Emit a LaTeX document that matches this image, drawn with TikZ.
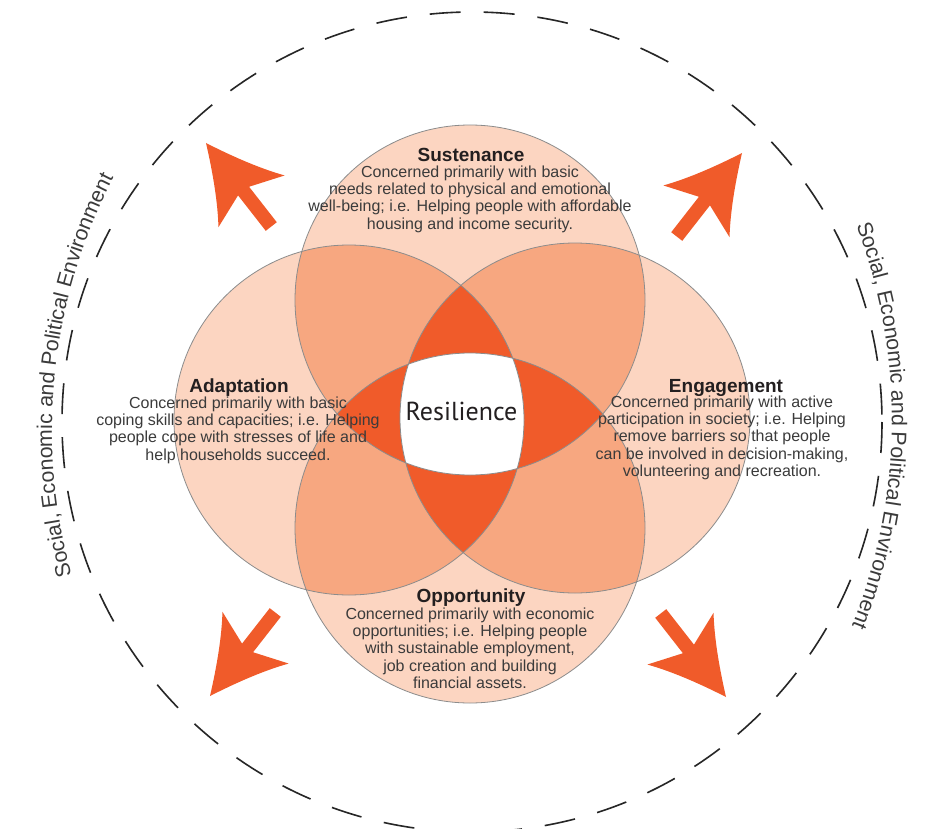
\documentclass[tikz,border=0pt]{standalone}
\usepackage{fontspec}
\setmainfont{Liberation Sans}
\newfontfamily\resfont{PT Sans}
\usetikzlibrary{decorations.text}
\definecolor{lightc}{RGB}{252,213,193}
\definecolor{midc}{RGB}{247,167,128}
\definecolor{darkc}{RGB}{240,91,42}
\definecolor{ringc}{RGB}{140,140,140}
\definecolor{txtc}{RGB}{59,59,59}
\definecolor{titc}{RGB}{35,31,32}
\newcommand{\arrowshape}{\fill[darkc] (0,0) .. controls (30,14) and (55,28) .. (74,42) -- (61,7) -- (106,7) -- (106,-7) -- (61,-7) -- (74,-42) .. controls (55,-28) and (30,-14) .. (0,0) -- cycle;}
\newcommand{\curvefont}{\fontsize{21.3}{25}\selectfont}
\begin{document}
\begin{tikzpicture}[x=1pt,y=-1pt,
  bodytext/.style={font=\fontsize{16}{17.3}\selectfont, text=txtc, align=center, inner sep=0pt, anchor=north},
  titletext/.style={font=\fontsize{19}{22}\selectfont\bfseries, text=titc, inner sep=0pt, anchor=base},
  ringline/.style={draw=ringc, line width=0.8pt},
  envring/.style={draw=black!85, line width=1.6pt, dash pattern=on 31pt off 23pt},
  envtext/.style={decorate, decoration={text along path, text={|\curvefont|Social, Economic and Political Environment}, text align=center, text color=txtc}}
]
\useasboundingbox (0,0) rectangle (934,829);
\fill[white] (0,0) rectangle (934,829);

% environment ring
\draw[envring] (472,422) circle[radius=410];

% arrows
\begin{scope}[shift={(206,143)}, x={(0.6157pt,-0.7880pt)}, y={(0.7880pt,0.6157pt)}]
  \arrowshape
\end{scope}
\begin{scope}[shift={(742,153)}, x={(-0.6157pt,-0.7880pt)}, y={(0.7880pt,-0.6157pt)}]
  \arrowshape
\end{scope}
\begin{scope}[shift={(210,696)}, x={(0.6157pt,0.7880pt)}, y={(-0.7880pt,0.6157pt)}]
  \arrowshape
\end{scope}
\begin{scope}[shift={(726,697)}, x={(-0.6157pt,0.7880pt)}, y={(0.7880pt,0.6157pt)}]
  \arrowshape
\end{scope}

% circle centres
\coordinate (cT) at (470,300);
\coordinate (cB) at (470,528);
\coordinate (cL) at (349,420);
\coordinate (cR) at (575,418);

% single
\fill[lightc] (cT) circle[radius=175];
\fill[lightc] (cB) circle[radius=175];
\fill[lightc] (cL) circle[radius=175];
\fill[lightc] (cR) circle[radius=175];
% pairs
\begin{scope}\clip (cT) circle[radius=175]; \fill[midc] (cL) circle[radius=175];\end{scope}
\begin{scope}\clip (cT) circle[radius=175]; \fill[midc] (cR) circle[radius=175];\end{scope}
\begin{scope}\clip (cT) circle[radius=175]; \fill[midc] (cB) circle[radius=175];\end{scope}
\begin{scope}\clip (cB) circle[radius=175]; \fill[midc] (cL) circle[radius=175];\end{scope}
\begin{scope}\clip (cB) circle[radius=175]; \fill[midc] (cR) circle[radius=175];\end{scope}
\begin{scope}\clip (cL) circle[radius=175]; \fill[midc] (cR) circle[radius=175];\end{scope}
% triples
\begin{scope}\clip (cT) circle[radius=175]; \clip (cL) circle[radius=175]; \fill[darkc] (cR) circle[radius=175];\end{scope}
\begin{scope}\clip (cT) circle[radius=175]; \clip (cL) circle[radius=175]; \fill[darkc] (cB) circle[radius=175];\end{scope}
\begin{scope}\clip (cT) circle[radius=175]; \clip (cR) circle[radius=175]; \fill[darkc] (cB) circle[radius=175];\end{scope}
\begin{scope}\clip (cB) circle[radius=175]; \clip (cL) circle[radius=175]; \fill[darkc] (cR) circle[radius=175];\end{scope}
% all four
\begin{scope}\clip (cT) circle[radius=175]; \clip (cL) circle[radius=175]; \clip (cR) circle[radius=175]; \fill[white] (cB) circle[radius=175];\end{scope}
% outlines
\draw[ringline] (cT) circle[radius=175];
\draw[ringline] (cB) circle[radius=175];
\draw[ringline] (cL) circle[radius=175];
\draw[ringline] (cR) circle[radius=175];

% curved texts
\path[envtext] (600,430) ++(156:548) arc[start angle=156, end angle=216, radius=548];
\path[envtext] (344,420) ++(-29.4:548) arc[start angle=-29.4, end angle=30.6, radius=548];

% texts
\node[titletext] (sustT) at (471,162) {Sustenance};
\node[bodytext] (sustB) at (470,165.5) {Concerned primarily with basic\\needs related to physical and emotional\\well-being; i.e. Helping people with affordable\\housing and income security.};
\node[titletext] (adaT) at (239,392) {Adaptation};
\node[bodytext] (adaB) at (238,396.5) {Concerned primarily with basic\\coping skills and capacities; i.e. Helping\\people cope with stresses of life and\\help households succeed.};
\node[titletext] (engT) at (726,392) {Engagement};
\node[bodytext] (engB) at (722,395.5) {Concerned primarily with active\\participation in society; i.e. Helping\\remove barriers so that people\\can be involved in decision-making,\\volunteering and recreation.};
\node[titletext] (oppT) at (471,602) {Opportunity};
\node[bodytext] (oppB) at (470,607.5) {Concerned primarily with economic\\opportunities; i.e. Helping people\\with sustainable employment,\\job creation and building\\financial assets.};
\node[font=\resfont\fontsize{26}{30}\selectfont, text=titc, inner sep=0pt, anchor=base] (res) at (461.5,420) {Resilience};
\end{tikzpicture}
\end{document}
